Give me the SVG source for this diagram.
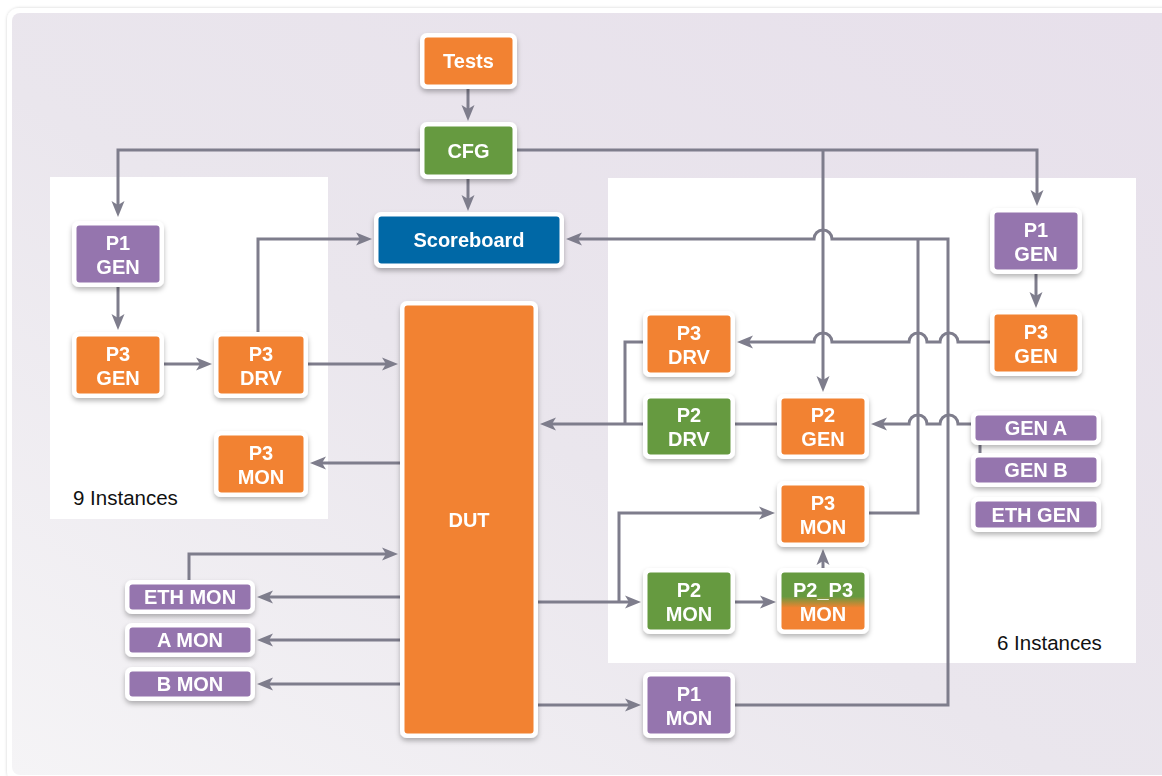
<svg xmlns="http://www.w3.org/2000/svg" width="1162" height="776" viewBox="0 0 1162 776">
<defs>
<style>
.frame{fill:#fff}
.lbl{font-family:"Liberation Sans",Arial,Helvetica,sans-serif;font-weight:bold;font-size:20px;fill:#fff;text-anchor:middle}
.inst{font-family:"Liberation Sans",Arial,Helvetica,sans-serif;font-size:20.5px;fill:#111}
.o{fill:#F28230}
.g{fill:#669A41}
.p{fill:#9575AE}
.b{fill:#0267A6}
.mix{fill:url(#mixGrad)}
.panel{fill:#fff}
#connectors path{fill:none;stroke:#7E7D8C;stroke-width:3}
.arr{marker-end:url(#ah)}
</style>
<linearGradient id="bgGrad" x1="0" y1="1" x2="1" y2="0">
<stop offset="0" stop-color="#F5F4F6"/>
<stop offset="0.45" stop-color="#EAE6ED"/>
<stop offset="1" stop-color="#E7E0EB"/>
</linearGradient>
<linearGradient id="mixGrad" x1="0" y1="0" x2="0" y2="1">
<stop offset="0" stop-color="#669A41"/>
<stop offset="0.42" stop-color="#669A41"/>
<stop offset="0.62" stop-color="#F28230"/>
<stop offset="1" stop-color="#F28230"/>
</linearGradient>
<filter id="sh" x="-20%" y="-20%" width="140%" height="150%">
<feDropShadow dx="0" dy="3" stdDeviation="2.5" flood-color="#000" flood-opacity="0.28"/>
</filter>
<filter id="fsh" x="-5%" y="-5%" width="110%" height="110%">
<feDropShadow dx="0" dy="0" stdDeviation="1.5" flood-color="#000" flood-opacity="0.18"/>
</filter>
<marker id="ah" markerUnits="userSpaceOnUse" markerWidth="16" markerHeight="14" refX="8" refY="7" orient="auto">
<path d="M0,0.5 L16,7 L0,13.5 L4,7 Z" fill="#7E7D8C"/>
</marker>
</defs>

<rect x="0" y="0" width="1162" height="776" fill="#fff"/>
<rect x="7" y="8" width="1170" height="775" rx="12" fill="#fff" filter="url(#fsh)"/>
<rect x="12" y="13" width="1160" height="762" rx="8" fill="url(#bgGrad)"/>

<rect class="panel" x="50" y="177" width="278" height="342"/>
<rect class="panel" x="608" y="178" width="528" height="485"/>
<text class="inst" x="73" y="505">9 Instances</text>
<text class="inst" x="997" y="650">6 Instances</text>

<g id="connectors">
<path class="arr" d="M468,89 L468,113"/>
<path class="arr" d="M468,179 L468,203"/>
<path class="arr" d="M420,150 L118,150 L118,209"/>
<path class="arr" d="M517,150 L1037,150 L1037,198"/>
<path class="arr" d="M823,150 L823,384"/>
<path class="arr" d="M118,287 L118,322"/>
<path class="arr" d="M164,364 L204,364"/>
<path class="arr" d="M258,332 L258,239 L364,239"/>
<path class="arr" d="M308,364 L390,364"/>
<path class="arr" d="M400,463 L318,463"/>
<path class="arr" d="M189,580 L189,554 L390,554"/>
<path class="arr" d="M400,597 L265,597"/>
<path class="arr" d="M400,640 L265,640"/>
<path class="arr" d="M400,684 L265,684"/>
<path class="arr" d="M1036,274 L1036,300"/>
<path d="M869,513 L918,513 L918,239"/>
<path class="arr" d="M735,705 L948,705 L948,239 L832,239 A9,9 0 0 0 814,239 L574,239"/>
<path class="arr" d="M990,342 L958,342 A9,9 0 0 0 940,342 L927,342 A9,9 0 0 0 909,342 L832,342 A9,9 0 0 0 814,342 L745,342"/>
<path d="M643,342 L625,342 L625,424"/>
<path class="arr" d="M643,424 L548,424"/>
<path d="M777,424 L735,424"/>
<path class="arr" d="M971,424 L958,424 A9,9 0 0 0 940,424 L927,424 A9,9 0 0 0 909,424 L879,424"/>
<path d="M980,444 L980,454"/>
<path class="arr" d="M538,602 L633,602"/>
<path class="arr" d="M619,602 L619,513 L767,513"/>
<path class="arr" d="M735,602 L768,602"/>
<path class="arr" d="M823,568 L823,557"/>
<path class="arr" d="M538,705 L633,705"/>
</g>

<g id="tests" filter="url(#sh)"><rect class="frame" x="420" y="33" width="97" height="56" rx="7"/><rect class="o" x="424.5" y="37.5" width="88" height="47" rx="3"/><text class="lbl" x="468.5" y="68">Tests</text></g>
<g id="cfg" filter="url(#sh)"><rect class="frame" x="420" y="122" width="97" height="57" rx="7"/><rect class="g" x="424.5" y="126.5" width="88" height="48" rx="3"/><text class="lbl" x="468.5" y="157.5">CFG</text></g>
<g id="scoreboard" filter="url(#sh)"><rect class="frame" x="374" y="212" width="190" height="56" rx="7"/><rect class="b" x="378.5" y="216.5" width="181" height="47" rx="3"/><text class="lbl" x="469" y="247">Scoreboard</text></g>

<g id="l-p1gen" filter="url(#sh)"><rect class="frame" x="72" y="221" width="92" height="66" rx="7"/><rect class="p" x="76.5" y="225.5" width="83" height="57" rx="3"/><text class="lbl" x="118" y="250">P1</text><text class="lbl" x="118" y="274">GEN</text></g>
<g id="l-p3gen" filter="url(#sh)"><rect class="frame" x="72" y="332" width="92" height="66" rx="7"/><rect class="o" x="76.5" y="336.5" width="83" height="57" rx="3"/><text class="lbl" x="118" y="361">P3</text><text class="lbl" x="118" y="385">GEN</text></g>
<g id="l-p3drv" filter="url(#sh)"><rect class="frame" x="214" y="332" width="94" height="66" rx="7"/><rect class="o" x="218.5" y="336.5" width="85" height="57" rx="3"/><text class="lbl" x="261" y="361">P3</text><text class="lbl" x="261" y="385">DRV</text></g>
<g id="l-p3mon" filter="url(#sh)"><rect class="frame" x="214" y="431" width="94" height="66" rx="7"/><rect class="o" x="218.5" y="435.5" width="85" height="57" rx="3"/><text class="lbl" x="261" y="460">P3</text><text class="lbl" x="261" y="484">MON</text></g>

<g id="dut" filter="url(#sh)"><rect class="frame" x="400" y="301" width="138" height="437" rx="7"/><rect class="o" x="404.5" y="305.5" width="129" height="428" rx="3"/><text class="lbl" x="469" y="527">DUT</text></g>

<g id="ethmon" filter="url(#sh)"><rect class="frame" x="125" y="580" width="130" height="34" rx="7"/><rect class="p" x="129.5" y="584.5" width="121" height="25" rx="3"/><text class="lbl" x="190" y="604">ETH MON</text></g>
<g id="amon" filter="url(#sh)"><rect class="frame" x="125" y="623" width="130" height="34" rx="7"/><rect class="p" x="129.5" y="627.5" width="121" height="25" rx="3"/><text class="lbl" x="190" y="647">A MON</text></g>
<g id="bmon" filter="url(#sh)"><rect class="frame" x="125" y="667" width="130" height="34" rx="7"/><rect class="p" x="129.5" y="671.5" width="121" height="25" rx="3"/><text class="lbl" x="190" y="691">B MON</text></g>

<g id="r-p1gen" filter="url(#sh)"><rect class="frame" x="990" y="208" width="92" height="66" rx="7"/><rect class="p" x="994.5" y="212.5" width="83" height="57" rx="3"/><text class="lbl" x="1036" y="237">P1</text><text class="lbl" x="1036" y="261">GEN</text></g>
<g id="r-p3gen" filter="url(#sh)"><rect class="frame" x="990" y="310" width="92" height="66" rx="7"/><rect class="o" x="994.5" y="314.5" width="83" height="57" rx="3"/><text class="lbl" x="1036" y="339">P3</text><text class="lbl" x="1036" y="363">GEN</text></g>
<g id="r-p3drv" filter="url(#sh)"><rect class="frame" x="643" y="311" width="92" height="66" rx="7"/><rect class="o" x="647.5" y="315.5" width="83" height="57" rx="3"/><text class="lbl" x="689" y="340">P3</text><text class="lbl" x="689" y="364">DRV</text></g>
<g id="p2drv" filter="url(#sh)"><rect class="frame" x="643" y="394" width="92" height="65" rx="7"/><rect class="g" x="647.5" y="398.5" width="83" height="56" rx="3"/><text class="lbl" x="689" y="422">P2</text><text class="lbl" x="689" y="446">DRV</text></g>
<g id="p2gen" filter="url(#sh)"><rect class="frame" x="777" y="394" width="92" height="65" rx="7"/><rect class="o" x="781.5" y="398.5" width="83" height="56" rx="3"/><text class="lbl" x="823" y="422">P2</text><text class="lbl" x="823" y="446">GEN</text></g>
<g id="gena" filter="url(#sh)"><rect class="frame" x="971" y="411" width="130" height="34" rx="7"/><rect class="p" x="975.5" y="415.5" width="121" height="25" rx="3"/><text class="lbl" x="1036" y="435">GEN A</text></g>
<g id="genb" filter="url(#sh)"><rect class="frame" x="971" y="453" width="130" height="34" rx="7"/><rect class="p" x="975.5" y="457.5" width="121" height="25" rx="3"/><text class="lbl" x="1036" y="477">GEN B</text></g>
<g id="ethgen" filter="url(#sh)"><rect class="frame" x="971" y="497" width="130" height="35" rx="7"/><rect class="p" x="975.5" y="501.5" width="121" height="26" rx="3"/><text class="lbl" x="1036" y="522">ETH GEN</text></g>
<g id="r-p3mon" filter="url(#sh)"><rect class="frame" x="777" y="481" width="92" height="66" rx="7"/><rect class="o" x="781.5" y="485.5" width="83" height="57" rx="3"/><text class="lbl" x="823" y="510">P3</text><text class="lbl" x="823" y="534">MON</text></g>
<g id="p2mon" filter="url(#sh)"><rect class="frame" x="643" y="568" width="92" height="66" rx="7"/><rect class="g" x="647.5" y="572.5" width="83" height="57" rx="3"/><text class="lbl" x="689" y="597">P2</text><text class="lbl" x="689" y="621">MON</text></g>
<g id="p2p3mon" filter="url(#sh)"><rect class="frame" x="777" y="568" width="92" height="66" rx="7"/><rect class="mix" x="781.5" y="572.5" width="83" height="57" rx="3"/><text class="lbl" x="823" y="597">P2_P3</text><text class="lbl" x="823" y="621">MON</text></g>
<g id="p1mon" filter="url(#sh)"><rect class="frame" x="643" y="672" width="92" height="66" rx="7"/><rect class="p" x="647.5" y="676.5" width="83" height="57" rx="3"/><text class="lbl" x="689" y="701">P1</text><text class="lbl" x="689" y="725">MON</text></g>
</svg>
